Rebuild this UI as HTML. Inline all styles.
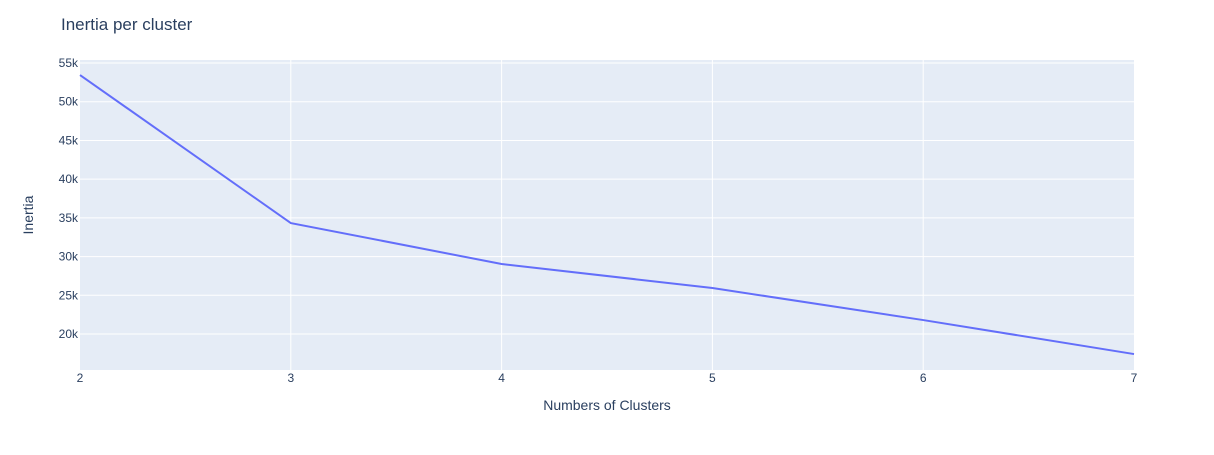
<!DOCTYPE html>
<html><head><meta charset="utf-8"><style>
body{margin:0;background:#fff;font-family:"Liberation Sans",sans-serif}
svg text{font-family:"Liberation Sans",sans-serif;fill:#2a3f5f}
</style></head><body>
<svg id="chart" width="1214" height="450" xmlns="http://www.w3.org/2000/svg">
<rect x="0" y="0" width="1214" height="450" fill="#fff"/>
<rect x="80" y="60" width="1054" height="310" fill="#e5ecf6"/>
<g id="grid"></g><g id="ticks"></g>
<path id="line" fill="none" stroke="#636efa" stroke-width="2"/>
<text x="61" y="30" font-size="17">Inertia per cluster</text>
<text x="607" y="410" font-size="14" text-anchor="middle">Numbers of Clusters</text>
<text transform="translate(33,215) rotate(-90)" font-size="14" text-anchor="middle">Inertia</text>
</svg>
<script>
const clusters=[2,3,4,5,6,7];
const inertia=[53450,34330,29040,25940,21800,17410];
const yTicks=[20000,25000,30000,35000,40000,45000,50000,55000];
const yTickLabels=["20k","25k","30k","35k","40k","45k","50k","55k"];
const xTicks=[2,3,4,5,6,7];
const NS="http://www.w3.org/2000/svg";
const x0=80,x1=1134,yTop=60,yBot=370;
const xMin=2,xMax=7,yMin=15350,yMax=55390;
const X=v=>x0+(v-xMin)/(xMax-xMin)*(x1-x0);
const Y=v=>yBot-(v-yMin)/(yMax-yMin)*(yBot-yTop);
const grid=document.getElementById('grid'),ticks=document.getElementById('ticks');
yTicks.forEach((t,i)=>{
 const l=document.createElementNS(NS,'line');
 l.setAttribute('x1',x0);l.setAttribute('x2',x1);l.setAttribute('y1',Y(t));l.setAttribute('y2',Y(t));
 l.setAttribute('stroke','#fff');l.setAttribute('stroke-width','1');
 
 
 grid.appendChild(l);
 const tx=document.createElementNS(NS,'text');
 tx.setAttribute('x',x0-2);tx.setAttribute('y',Y(t)+4);tx.setAttribute('text-anchor','end');tx.setAttribute('font-size','12');
 tx.textContent=yTickLabels[i];
 
 
 ticks.appendChild(tx);
});
xTicks.forEach(t=>{
 if(t!==xMin&&t!==xMax){
 const l=document.createElementNS(NS,'line');
 l.setAttribute('x1',X(t));l.setAttribute('x2',X(t));l.setAttribute('y1',yTop);l.setAttribute('y2',yBot);
 l.setAttribute('stroke','#fff');l.setAttribute('stroke-width','1');
 
 
 grid.appendChild(l);}
 const tx=document.createElementNS(NS,'text');
 tx.setAttribute('x',X(t));tx.setAttribute('y',yBot+12);tx.setAttribute('text-anchor','middle');tx.setAttribute('font-size','12');
 tx.textContent=t;
 
 
 ticks.appendChild(tx);
});
document.getElementById('line').setAttribute('d',clusters.map((c,i)=>(i?'L':'M')+X(c)+','+Y(inertia[i])).join(' '));
</script>
</body></html>
